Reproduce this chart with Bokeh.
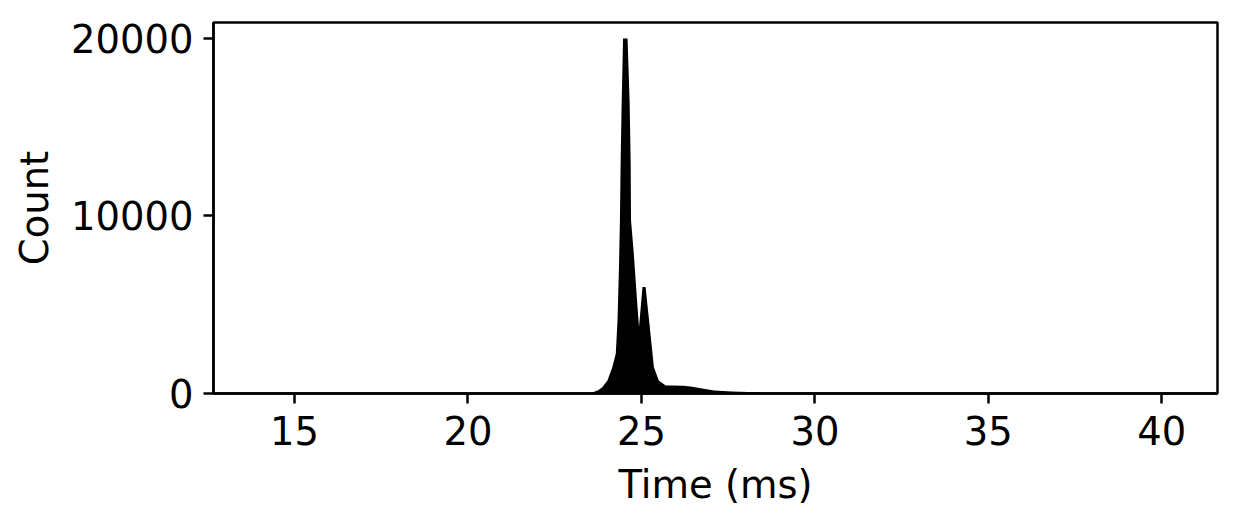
from bokeh.plotting import figure
from bokeh.models import FixedTicker, Range1d
from bokeh.embed import file_html
from bokeh.resources import INLINE

# Data (time in ms, counts)
time_ms = [14.0, 23.0, 23.4, 23.6, 23.75, 23.87, 24.02, 24.16, 24.26, 24.31,
           24.35, 24.38, 24.40, 24.43, 24.47, 24.60, 24.66, 24.69, 24.70, 24.78,
           24.88, 24.93, 25.03, 25.12, 25.17, 25.27, 25.36, 25.50, 25.70, 25.9,
           26.2, 26.42, 26.79, 27.1, 27.6, 28.3, 28.5, 29.0, 30.0, 40.3]
counts = [0, 0, 20, 70, 180, 355, 730, 1480, 2240, 4120,
          6940, 9760, 13000, 16400, 20000, 20000, 16400, 13000, 9760, 7880,
          5060, 3740, 6000, 6000, 5060, 3180, 1480, 730, 450, 450,
          440, 400, 265, 170, 113, 75, 30, 10, 0, 0]

x_ticks = [15, 20, 25, 30, 35, 40]
y_ticks = [0, 10000, 20000]
x_label = "Time (ms)"
y_label = "Count"

p = figure(width=1223, height=514, output_backend="svg", toolbar_location=None,
           x_range=Range1d(12.664, 41.606), y_range=Range1d(0, 20900),
           min_border_left=213, min_border_right=6, min_border_top=22,
           min_border_bottom=121)

p.varea(x=time_ms, y1=0, y2=counts, fill_color="black")

p.grid.visible = False
p.outline_line_color = "black"
p.outline_line_width = 2.5
p.background_fill_color = "white"
p.border_fill_color = "white"

font = "DejaVu Sans"
for ax in (p.xaxis[0], p.yaxis[0]):
    ax.axis_line_color = "black"
    ax.axis_line_width = 2.5
    ax.major_tick_line_width = 2.5
    ax.major_tick_in = 0
    ax.major_tick_out = 10
    ax.minor_tick_line_color = None
    ax.major_label_text_font = font
    ax.major_label_text_font_size = "38.5px"
    ax.major_label_text_color = "black"
    ax.axis_label_text_font = font
    ax.axis_label_text_font_size = "38.5px"
    ax.axis_label_text_font_style = "normal"
    ax.axis_label_text_color = "black"

p.xaxis.ticker = FixedTicker(ticks=x_ticks)
p.yaxis.ticker = FixedTicker(ticks=y_ticks)
p.xaxis.axis_label = x_label
p.yaxis.axis_label = y_label
p.xaxis.major_label_standoff = 12
p.yaxis.major_label_standoff = 10
p.xaxis.axis_label_standoff = 14
p.yaxis.axis_label_standoff = 11

open("out.html", "w").write(file_html(p, INLINE))
